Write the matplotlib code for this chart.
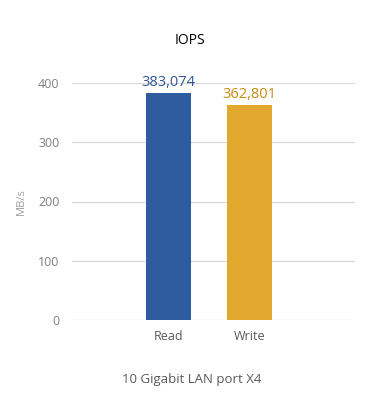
import matplotlib
matplotlib.use("Agg")
import matplotlib.pyplot as plt

categories = ["Read", "Write"]
values = [383.074, 362.801]
value_labels = ["383,074", "362,801"]
bar_colors = ["#2E5C9F", "#E1A82D"]
label_colors = ["#2F5597", "#C98B10"]
y_ticks = [0, 100, 200, 300, 400]

plt.rcParams['font.family'] = ['Open Sans', 'DejaVu Sans']

fig = plt.figure(figsize=(3.8, 4.2), dpi=100)
ax = fig.add_axes([72 / 380, 100 / 420, 283 / 380, 237 / 420])

x = list(range(len(categories)))
ax.bar(x, values, width=0.56, color=bar_colors, zorder=3)
for xi, v, lab, c in zip(x, values, value_labels, label_colors):
    ax.text(xi, v + 5, lab, ha="center", va="bottom", fontsize=10.5, color=c)

ax.set_xlim(-1.19, 2.30)
ax.set_ylim(0, 400)
ax.set_yticks(y_ticks)
ax.set_xticks(x)
ax.set_xticklabels(categories)
ax.tick_params(axis="both", length=0, labelsize=9, colors="#595959")
ax.tick_params(axis="y", colors="#7F7F7F", pad=9)
ax.tick_params(axis="x", pad=7)
ax.grid(axis="y", color="#D9D9D9", linewidth=0.9, zorder=0)
for s in ax.spines.values():
    s.set_visible(False)

ax.set_ylabel("MB/s", fontsize=8, color="#A0A0A0", labelpad=8)
fig.text(192 / 380, 1 - 380 / 420, "10 Gigabit LAN port X4", ha="center", va="center",
         fontsize=9.5, color="#595959")
fig.text(190 / 380, 1 - 40 / 420, "IOPS", ha="center", va="center", fontsize=10, color="black")

plt.savefig("out.png", dpi=100)
